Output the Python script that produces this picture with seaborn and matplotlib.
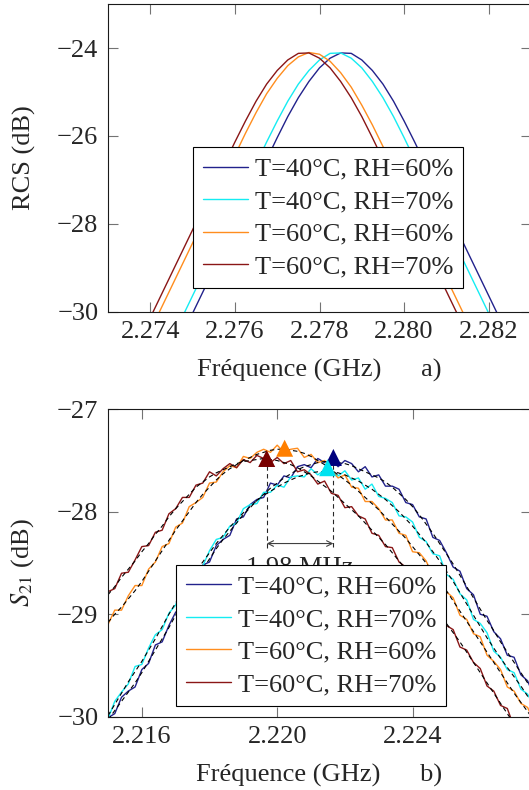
import numpy as np
import matplotlib
matplotlib.use("Agg")
import matplotlib.pyplot as plt
import seaborn as sns

# --- a) simulated RCS around the resonance ---
rcs_freq = np.linspace(2.273, 2.283, 41)  # GHz
rcs_40_60 = [-34.04, -33.54, -33.04, -32.54, -32.04, -31.54, -31.04, -30.54, -30.04, -29.54,
             -29.04, -28.54, -28.04, -27.54, -27.04, -26.54, -26.04, -25.56, -25.13, -24.76,
             -24.45, -24.23, -24.11, -24.12, -24.27, -24.51, -24.82, -25.21, -25.66, -26.14,
             -26.64, -27.14, -27.64, -28.14, -28.64, -29.14, -29.64, -30.14, -30.64, -31.14, -31.64]
rcs_40_70 = [-33.64, -33.14, -32.64, -32.14, -31.64, -31.14, -30.64, -30.14, -29.64, -29.14,
             -28.64, -28.14, -27.64, -27.14, -26.64, -26.14, -25.66, -25.21, -24.82, -24.51,
             -24.27, -24.12, -24.11, -24.23, -24.45, -24.76, -25.13, -25.56, -26.04, -26.54,
             -27.04, -27.54, -28.04, -28.54, -29.04, -29.54, -30.04, -30.54, -31.04, -31.54, -32.04]
rcs_60_60 = [-32.44, -31.94, -31.44, -30.94, -30.44, -29.94, -29.44, -28.94, -28.44, -27.94,
             -27.44, -26.94, -26.44, -25.94, -25.47, -25.04, -24.69, -24.40, -24.20, -24.10,
             -24.14, -24.30, -24.56, -24.89, -25.30, -25.75, -26.24, -26.74, -27.24, -27.74,
             -28.24, -28.74, -29.24, -29.74, -30.24, -30.74, -31.24, -31.74, -32.24, -32.74, -33.24]
rcs_60_70 = [-32.14, -31.64, -31.14, -30.64, -30.14, -29.64, -29.14, -28.64, -28.14, -27.64,
             -27.14, -26.64, -26.14, -25.66, -25.21, -24.82, -24.51, -24.27, -24.12, -24.11,
             -24.23, -24.45, -24.76, -25.13, -25.56, -26.04, -26.54, -27.04, -27.54, -28.04,
             -28.54, -29.04, -29.54, -30.04, -30.54, -31.04, -31.54, -32.04, -32.54, -33.04, -33.54]

# --- b) measured S21 and fitted curves ---
s21_freq = np.linspace(2.215, 2.2276, 64)  # GHz
s21_40_60 = [-30.01, -29.97, -29.81, -29.75, -29.71, -29.54, -29.48, -29.30, -29.27, -29.11,
             -28.98, -28.93, -28.76, -28.68, -28.52, -28.49, -28.33, -28.27, -28.23, -28.07,
             -28.05, -27.93, -27.88, -27.86, -27.72, -27.74, -27.65, -27.67, -27.56, -27.54,
             -27.57, -27.48, -27.52, -27.49, -27.56, -27.50, -27.53, -27.61, -27.56, -27.66,
             -27.64, -27.75, -27.75, -27.78, -27.91, -27.93, -28.05, -28.07, -28.25, -28.28,
             -28.40, -28.54, -28.58, -28.75, -28.81, -29.00, -29.02, -29.17, -29.24, -29.40,
             -29.42, -29.59, -29.65, -29.81]
s21_40_70 = [-30.02, -29.85, -29.76, -29.68, -29.51, -29.49, -29.33, -29.20, -29.15, -28.99,
             -28.91, -28.73, -28.69, -28.55, -28.53, -28.38, -28.27, -28.25, -28.14, -28.11,
             -27.97, -27.93, -27.92, -27.81, -27.81, -27.74, -27.76, -27.66, -27.65, -27.66,
             -27.58, -27.64, -27.59, -27.60, -27.65, -27.60, -27.69, -27.67, -27.78, -27.73,
             -27.85, -27.87, -27.91, -28.04, -28.05, -28.10, -28.25, -28.29, -28.41, -28.43,
             -28.61, -28.66, -28.80, -28.86, -29.05, -29.09, -29.18, -29.36, -29.42, -29.54,
             -29.57, -29.73, -29.78, -29.91]
s21_60_60 = [-29.10, -28.96, -28.96, -28.82, -28.72, -28.72, -28.56, -28.49, -28.34, -28.31,
             -28.15, -28.11, -27.95, -27.91, -27.86, -27.72, -27.71, -27.61, -27.55, -27.57,
             -27.46, -27.48, -27.42, -27.39, -27.42, -27.35, -27.42, -27.39, -27.38, -27.47,
             -27.44, -27.52, -27.50, -27.59, -27.67, -27.64, -27.76, -27.77, -27.90, -27.90,
             -27.97, -28.08, -28.08, -28.21, -28.23, -28.39, -28.40, -28.48, -28.62, -28.64,
             -28.78, -28.84, -29.01, -29.05, -29.19, -29.22, -29.40, -29.46, -29.54, -29.71,
             -29.75, -29.87, -29.91, -30.06]
s21_60_70 = [-28.78, -28.75, -28.60, -28.59, -28.47, -28.34, -28.33, -28.20, -28.18, -28.02,
             -27.97, -27.86, -27.86, -27.74, -27.72, -27.61, -27.65, -27.58, -27.53, -27.57,
             -27.49, -27.52, -27.45, -27.48, -27.52, -27.47, -27.53, -27.50, -27.61, -27.59,
             -27.64, -27.73, -27.70, -27.82, -27.84, -27.96, -27.95, -28.04, -28.07, -28.21,
             -28.23, -28.34, -28.35, -28.49, -28.54, -28.68, -28.70, -28.81, -28.94, -28.96,
             -29.11, -29.15, -29.32, -29.35, -29.47, -29.53, -29.70, -29.75, -29.89, -29.92,
             -30.10, -30.16, -30.24, -30.39]

fit_40_60 = [-30.03, -29.94, -29.85, -29.76, -29.67, -29.57, -29.46, -29.35, -29.24, -29.13,
             -29.01, -28.89, -28.78, -28.67, -28.56, -28.46, -28.36, -28.27, -28.19, -28.11,
             -28.03, -27.96, -27.89, -27.83, -27.77, -27.72, -27.67, -27.63, -27.59, -27.56,
             -27.54, -27.52, -27.51, -27.51, -27.52, -27.53, -27.55, -27.58, -27.61, -27.64,
             -27.67, -27.71, -27.76, -27.82, -27.88, -27.95, -28.03, -28.12, -28.21, -28.31,
             -28.41, -28.51, -28.62, -28.73, -28.84, -28.95, -29.06, -29.16, -29.27, -29.37,
             -29.47, -29.57, -29.67, -29.77]
fit_40_70 = [-29.99, -29.88, -29.77, -29.66, -29.56, -29.46, -29.35, -29.24, -29.12, -29.00,
             -28.89, -28.78, -28.68, -28.58, -28.49, -28.40, -28.31, -28.23, -28.15, -28.08,
             -28.01, -27.95, -27.89, -27.84, -27.80, -27.76, -27.72, -27.69, -27.66, -27.64,
             -27.62, -27.61, -27.61, -27.61, -27.62, -27.64, -27.67, -27.70, -27.74, -27.78,
             -27.83, -27.88, -27.94, -28.00, -28.07, -28.14, -28.22, -28.30, -28.39, -28.48,
             -28.58, -28.68, -28.79, -28.90, -29.01, -29.12, -29.23, -29.33, -29.43, -29.52,
             -29.61, -29.70, -29.80, -29.90]
fit_60_60 = [-29.08, -29.00, -28.93, -28.85, -28.77, -28.68, -28.58, -28.48, -28.38, -28.28,
             -28.18, -28.09, -28.00, -27.91, -27.83, -27.76, -27.69, -27.63, -27.58, -27.54,
             -27.50, -27.47, -27.44, -27.42, -27.40, -27.39, -27.39, -27.40, -27.41, -27.43,
             -27.46, -27.50, -27.54, -27.59, -27.64, -27.69, -27.74, -27.80, -27.86, -27.92,
             -27.98, -28.05, -28.12, -28.19, -28.26, -28.34, -28.42, -28.50, -28.59, -28.68,
             -28.77, -28.87, -28.97, -29.07, -29.17, -29.27, -29.37, -29.47, -29.57, -29.67,
             -29.77, -29.86, -29.95, -30.04]
fit_60_70 = [-28.81, -28.73, -28.64, -28.56, -28.48, -28.39, -28.31, -28.22, -28.14, -28.05,
             -27.97, -27.90, -27.83, -27.76, -27.71, -27.66, -27.62, -27.59, -27.56, -27.53,
             -27.51, -27.50, -27.49, -27.48, -27.49, -27.50, -27.52, -27.54, -27.57, -27.61,
             -27.65, -27.70, -27.75, -27.80, -27.86, -27.92, -27.98, -28.04, -28.11, -28.18,
             -28.25, -28.32, -28.40, -28.48, -28.56, -28.64, -28.73, -28.82, -28.91, -29.00,
             -29.09, -29.18, -29.27, -29.37, -29.47, -29.57, -29.67, -29.77, -29.87, -29.97,
             -30.07, -30.17, -30.27, -30.37]

# resonance peaks marked with triangles
peak_freq = [2.22166, 2.22149, 2.22022, 2.21969]
peak_s21 = [-27.47, -27.57, -27.38, -27.48]
shift_text = "1.98 MHz"

labels = ["T=40°C, RH=60%", "T=40°C, RH=70%", "T=60°C, RH=60%", "T=60°C, RH=70%"]
line_colors = ["#22228c", "#14ecf2", "#ff8d1e", "#8a1616"]
peak_colors = ["#00007d", "#00e2f0", "#ff7f00", "#780000"]

sns.set_style("ticks")
plt.rcParams["font.family"] = ["Liberation Serif", "DejaVu Serif"]
plt.rcParams["mathtext.fontset"] = "stix"
plt.rcParams["font.size"] = 19
plt.rcParams["axes.unicode_minus"] = True

W, H = 529, 790
fig = plt.figure(figsize=(W / 100, H / 100), dpi=100)
ax1 = fig.add_axes([108 / W, 1 - 311.5 / H, 423 / W, 307.3 / H])
ax2 = fig.add_axes([108 / W, 1 - 716.7 / H, 423 / W, 307.4 / H])

legend_kw = dict(loc="lower left", borderaxespad=0, fancybox=False, framealpha=1,
                 edgecolor="black", fontsize=19, handlelength=1.7, handletextpad=0.25,
                 borderpad=0.38, labelspacing=0.34)


def style_axes(ax):
    ax.tick_params(direction="in", top=True, right=True, length=7, width=0.8,
                   color="0.45", labelsize=19, pad=7)
    for sp in ax.spines.values():
        sp.set_linewidth(0.8)
        sp.set_color("0.1")


# panel a
for vals, lab, col in zip([rcs_40_60, rcs_40_70, rcs_60_60, rcs_60_70], labels, line_colors):
    sns.lineplot(x=rcs_freq, y=vals, color=col, lw=1.0, label=lab, ax=ax1)
ax1.set_xlim(2.273, 2.283)
ax1.set_ylim(-30, -23)
ax1.set_xticks([2.274, 2.276, 2.278, 2.280, 2.282])
ax1.set_xticklabels(["2.274", "2.276", "2.278", "2.280", "2.282"])
ax1.set_yticks([-30, -28, -26, -24])
ax1.set_xlabel("Fréquence (GHz)      a)", labelpad=11)
ax1.set_ylabel("RCS (dB)", labelpad=15)
style_axes(ax1)
leg1 = ax1.legend(bbox_to_anchor=(0.2017, 0.0755), **legend_kw)
leg1.get_frame().set_linewidth(0.8)

# panel b
for meas, lab, col in zip([s21_40_60, s21_40_70, s21_60_60, s21_60_70], labels, line_colors):
    sns.lineplot(x=s21_freq, y=meas, color=col, lw=1.0, label=lab, ax=ax2)
for fit in [fit_40_60, fit_40_70, fit_60_60, fit_60_70]:
    sns.lineplot(x=s21_freq, y=fit, color="black", lw=0.8, linestyle=(0, (4, 3)), ax=ax2)

# frequency shift annotation between the two extreme peaks
arrow_y = -28.31
for f, v in [(peak_freq[3], peak_s21[3]), (peak_freq[0], peak_s21[0])]:
    ax2.plot([f, f], [v, arrow_y - 0.04], color="0.15", lw=0.8, linestyle=(0, (4, 3)), zorder=2)
ax2.annotate("", xy=(peak_freq[3], arrow_y), xytext=(peak_freq[0], arrow_y),
             arrowprops=dict(arrowstyle="<->", lw=0.8, color="0.25", shrinkA=0, shrinkB=0,
                             mutation_scale=10))
ax2.text((peak_freq[0] + peak_freq[3]) / 2, arrow_y - 0.13, shift_text, ha="center", va="top",
         fontsize=19, zorder=3)

sns.scatterplot(x=peak_freq, y=peak_s21, hue=labels, palette=peak_colors, marker="^", s=150,
                edgecolor="none", legend=False, zorder=4, ax=ax2)

ax2.set_xlim(2.215, 2.2275)
ax2.set_ylim(-30, -27)
ax2.set_xticks([2.216, 2.220, 2.224])
ax2.set_xticklabels(["2.216", "2.220", "2.224"])
ax2.set_yticks([-30, -29, -28, -27])
ax2.set_xlabel("Fréquence (GHz)      b)", labelpad=11)
ax2.set_ylabel("$S_{21}$ (dB)", labelpad=15)
style_axes(ax2)
leg2 = ax2.legend(bbox_to_anchor=(0.1608, 0.0348), **legend_kw)
leg2.get_frame().set_linewidth(0.8)
leg2.set_zorder(6)

fig.savefig("out.png", dpi=100)
